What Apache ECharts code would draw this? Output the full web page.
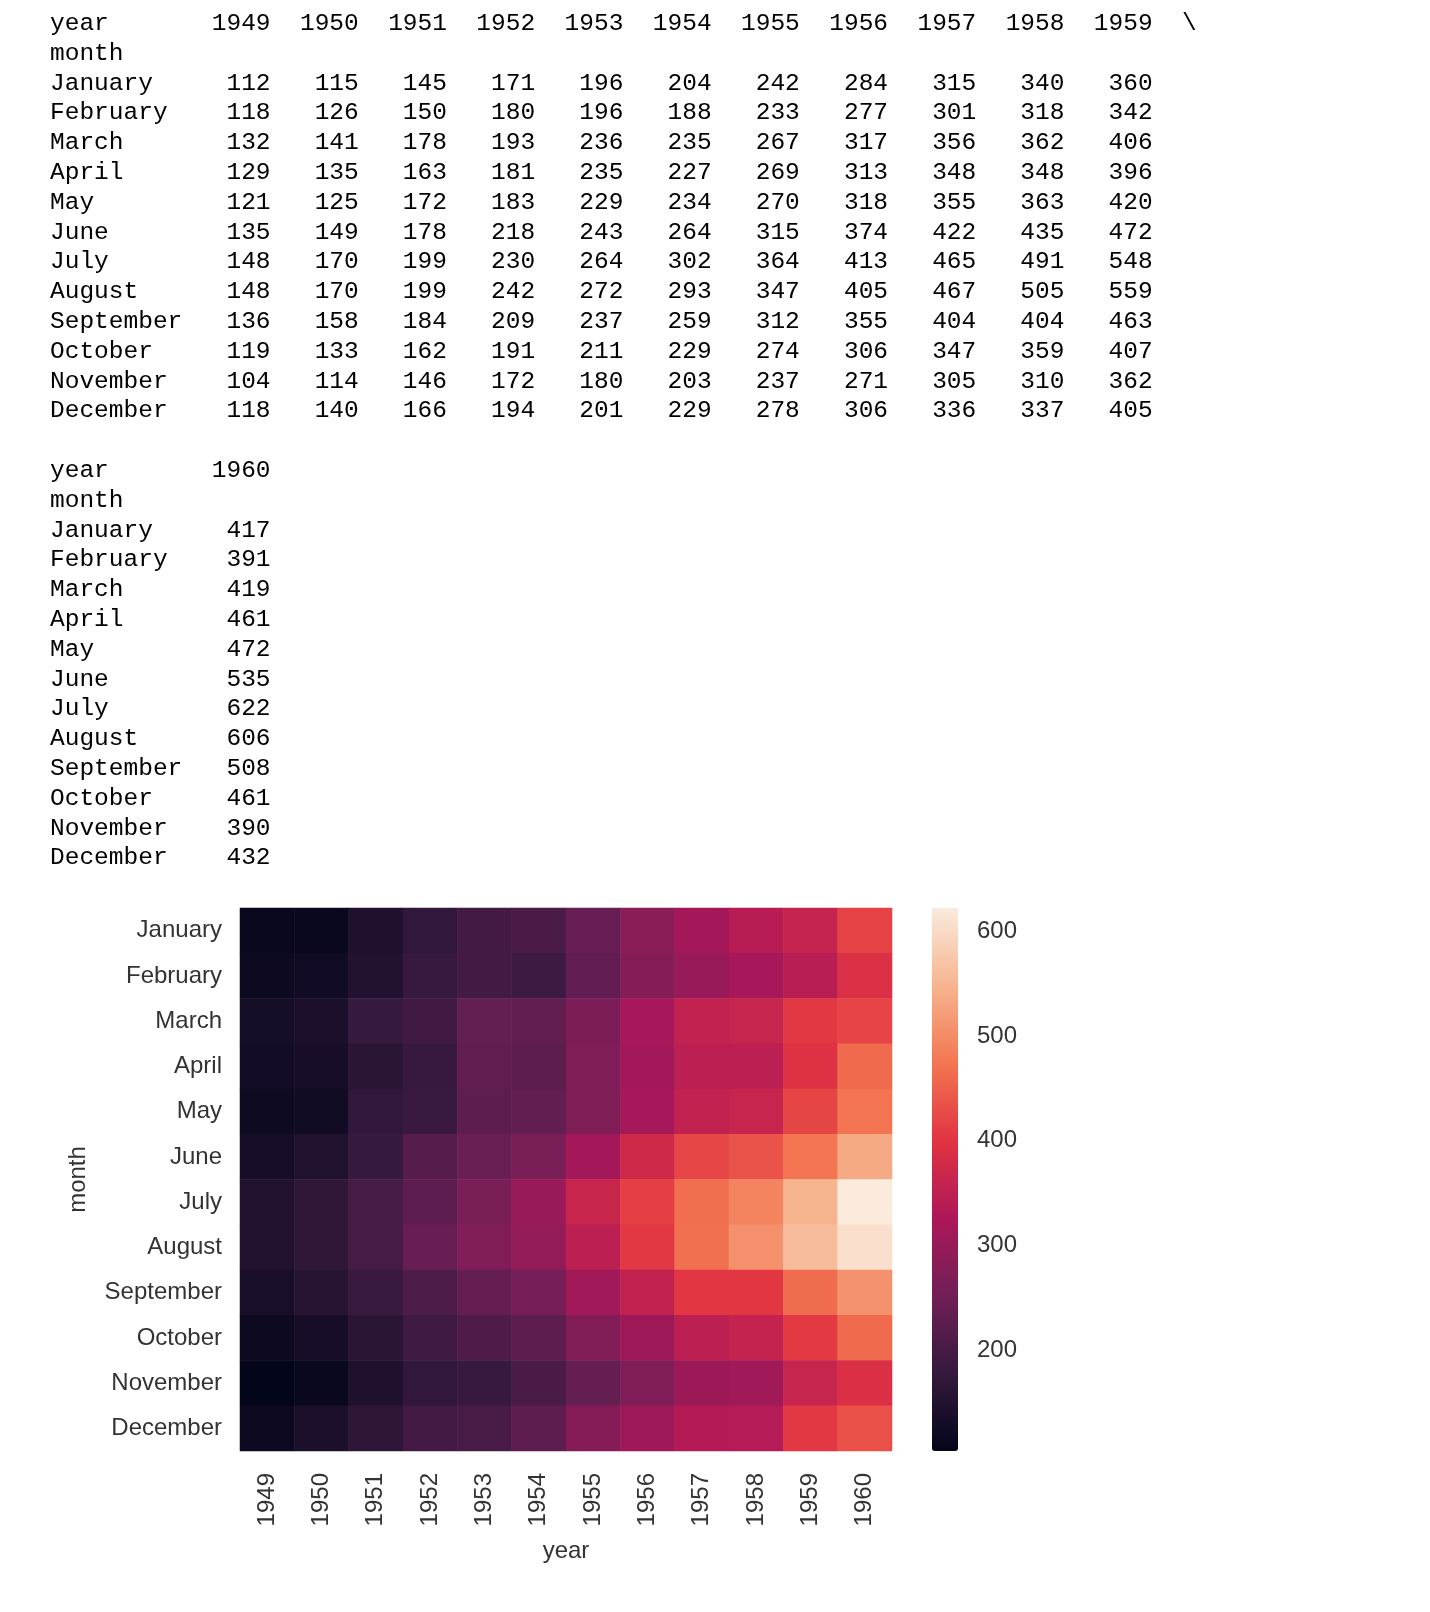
<!DOCTYPE html>
<html>
<head>
<meta charset="utf-8">
<script src="https://cdn.jsdelivr.net/npm/echarts@6/dist/echarts.min.js"></script>
<style>
  body { margin: 0; background: #fff; }
  #chart { position: absolute; left: 0; top: 0; width: 1430px; height: 1612px; }
  #table {
    position: absolute; left: 50px; top: 9px; margin: 0;
    font-family: "Liberation Mono", monospace; font-size: 24.5px; line-height: 29.8px;
    color: #000;
  }
</style>
</head>
<body>
<div id="chart"></div>
<pre id="table"></pre>
<script>
const years = ['1949', '1950', '1951', '1952', '1953', '1954', '1955', '1956', '1957', '1958', '1959', '1960'];
const months = ['January', 'February', 'March', 'April', 'May', 'June', 'July', 'August', 'September', 'October', 'November', 'December'];
// passengers, one array per year (January..December)
const y1949 = [112, 118, 132, 129, 121, 135, 148, 148, 136, 119, 104, 118];
const y1950 = [115, 126, 141, 135, 125, 149, 170, 170, 158, 133, 114, 140];
const y1951 = [145, 150, 178, 163, 172, 178, 199, 199, 184, 162, 146, 166];
const y1952 = [171, 180, 193, 181, 183, 218, 230, 242, 209, 191, 172, 194];
const y1953 = [196, 196, 236, 235, 229, 243, 264, 272, 237, 211, 180, 201];
const y1954 = [204, 188, 235, 227, 234, 264, 302, 293, 259, 229, 203, 229];
const y1955 = [242, 233, 267, 269, 270, 315, 364, 347, 312, 274, 237, 278];
const y1956 = [284, 277, 317, 313, 318, 374, 413, 405, 355, 306, 271, 306];
const y1957 = [315, 301, 356, 348, 355, 422, 465, 467, 404, 347, 305, 336];
const y1958 = [340, 318, 362, 348, 363, 435, 491, 505, 404, 359, 310, 337];
const y1959 = [360, 342, 406, 396, 420, 472, 548, 559, 463, 407, 362, 405];
const y1960 = [417, 391, 419, 461, 472, 535, 622, 606, 508, 461, 390, 432];
const colorTicks = [200, 300, 400, 500, 600];

const byYear = [y1949, y1950, y1951, y1952, y1953, y1954, y1955, y1956, y1957, y1958, y1959, y1960];

// printed dataframe (pandas wraps after 1959)
const printBlock = (cols, wrap) => {
  const lines = [];
  lines.push('year     ' + cols.map(i => years[i].padStart(6)).join('') + (wrap ? '  \\' : ''));
  lines.push('month');
  months.forEach((m, r) => {
    lines.push(m.padEnd(9) + cols.map(i => String(byYear[i][r]).padStart(6)).join(''));
  });
  return lines.join('\n');
};
document.getElementById('table').textContent =
  printBlock([0, 1, 2, 3, 4, 5, 6, 7, 8, 9, 10], true) + '\n\n' + printBlock([11], false);

const data = [];
byYear.forEach((vals, x) => vals.forEach((v, y) => data.push([x, y, v])));

// seaborn "rocket"
const rocket = ['#03051a', '#35193e', '#701f57', '#ad1759', '#e13342', '#f37651', '#f6b48f', '#faebdd'];

const chart = echarts.init(document.getElementById('chart'));
const labelFont = { fontFamily: 'Liberation Sans', fontSize: 24, color: '#333' };
chart.setOption({
  animation: false,
  grid: [
    { left: 240, width: 652, top: 908, height: 543 },
    { left: 958, width: 1, top: 908, height: 543 },
  ],
  xAxis: [
    {
      type: 'category', data: years, gridIndex: 0,
      axisLine: { show: false }, axisTick: { show: false },
      axisLabel: { ...labelFont, rotate: 90, margin: 22 },
      name: 'year', nameLocation: 'middle', nameGap: 88,
      nameTextStyle: labelFont,
    },
    { type: 'value', gridIndex: 1, show: false },
  ],
  yAxis: [
    {
      type: 'category', data: months, inverse: true, gridIndex: 0,
      axisLine: { show: false }, axisTick: { show: false },
      axisLabel: { ...labelFont, margin: 18 },
      name: 'month', nameLocation: 'middle', nameGap: 150, nameRotate: 90,
      nameTextStyle: labelFont,
    },
    {
      type: 'value', gridIndex: 1, position: 'right', min: 104, max: 622,
      splitLine: { show: false }, axisLine: { show: false },
      axisTick: { show: false, customValues: colorTicks },
      axisLabel: { ...labelFont, margin: 18, customValues: colorTicks },
    },
  ],
  visualMap: {
    type: 'continuous', min: 104, max: 622, seriesIndex: 0,
    left: 932, top: 908, itemWidth: 26, itemHeight: 543, padding: 0,
    calculable: false, showLabel: false, text: null,
    inRange: { color: rocket },
  },
  series: [{
    type: 'heatmap', data, xAxisIndex: 0, yAxisIndex: 0,
    itemStyle: { borderWidth: 0 },
  }],
});
</script>
</body>
</html>
